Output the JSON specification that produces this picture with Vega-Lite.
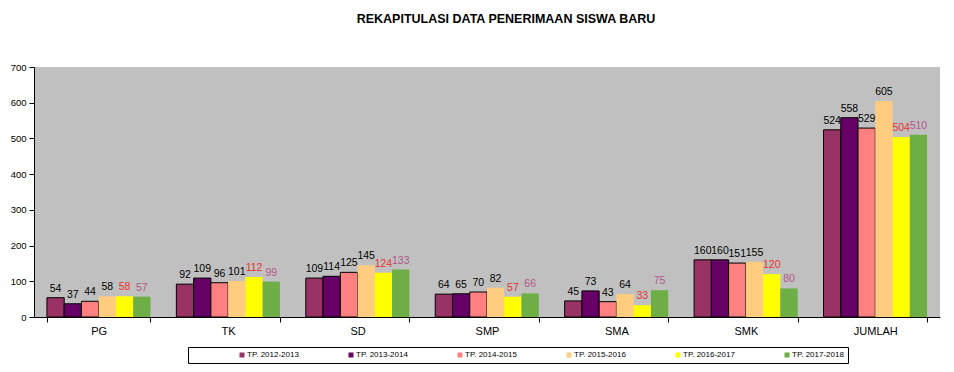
{
  "$schema": "https://vega.github.io/schema/vega-lite/v6.json",
  "width": 906,
  "height": 250,
  "autosize": {"type": "none"},
  "padding": {"left": 34, "top": 67, "right": 14, "bottom": 55},
  "background": "white",
  "title": {
    "text": "REKAPITULASI DATA PENERIMAAN  SISWA BARU",
    "font": "Liberation Sans",
    "fontSize": 12.5,
    "fontWeight": "bold",
    "color": "#000000",
    "anchor": "middle",
    "dx": 19,
    "offset": 37
  },
  "data": {
    "values": [
      {"jenjang": "PG", "tahun": "TP. 2012-2013", "jumlah": 54},
      {"jenjang": "PG", "tahun": "TP. 2013-2014", "jumlah": 37},
      {"jenjang": "PG", "tahun": "TP. 2014-2015", "jumlah": 44},
      {"jenjang": "PG", "tahun": "TP. 2015-2016", "jumlah": 58},
      {"jenjang": "PG", "tahun": "TP. 2016-2017", "jumlah": 58},
      {"jenjang": "PG", "tahun": "TP. 2017-2018", "jumlah": 57},
      {"jenjang": "TK", "tahun": "TP. 2012-2013", "jumlah": 92},
      {"jenjang": "TK", "tahun": "TP. 2013-2014", "jumlah": 109},
      {"jenjang": "TK", "tahun": "TP. 2014-2015", "jumlah": 96},
      {"jenjang": "TK", "tahun": "TP. 2015-2016", "jumlah": 101},
      {"jenjang": "TK", "tahun": "TP. 2016-2017", "jumlah": 112},
      {"jenjang": "TK", "tahun": "TP. 2017-2018", "jumlah": 99},
      {"jenjang": "SD", "tahun": "TP. 2012-2013", "jumlah": 109},
      {"jenjang": "SD", "tahun": "TP. 2013-2014", "jumlah": 114},
      {"jenjang": "SD", "tahun": "TP. 2014-2015", "jumlah": 125},
      {"jenjang": "SD", "tahun": "TP. 2015-2016", "jumlah": 145},
      {"jenjang": "SD", "tahun": "TP. 2016-2017", "jumlah": 124},
      {"jenjang": "SD", "tahun": "TP. 2017-2018", "jumlah": 133},
      {"jenjang": "SMP", "tahun": "TP. 2012-2013", "jumlah": 64},
      {"jenjang": "SMP", "tahun": "TP. 2013-2014", "jumlah": 65},
      {"jenjang": "SMP", "tahun": "TP. 2014-2015", "jumlah": 70},
      {"jenjang": "SMP", "tahun": "TP. 2015-2016", "jumlah": 82},
      {"jenjang": "SMP", "tahun": "TP. 2016-2017", "jumlah": 57},
      {"jenjang": "SMP", "tahun": "TP. 2017-2018", "jumlah": 66},
      {"jenjang": "SMA", "tahun": "TP. 2012-2013", "jumlah": 45},
      {"jenjang": "SMA", "tahun": "TP. 2013-2014", "jumlah": 73},
      {"jenjang": "SMA", "tahun": "TP. 2014-2015", "jumlah": 43},
      {"jenjang": "SMA", "tahun": "TP. 2015-2016", "jumlah": 64},
      {"jenjang": "SMA", "tahun": "TP. 2016-2017", "jumlah": 33},
      {"jenjang": "SMA", "tahun": "TP. 2017-2018", "jumlah": 75},
      {"jenjang": "SMK", "tahun": "TP. 2012-2013", "jumlah": 160},
      {"jenjang": "SMK", "tahun": "TP. 2013-2014", "jumlah": 160},
      {"jenjang": "SMK", "tahun": "TP. 2014-2015", "jumlah": 151},
      {"jenjang": "SMK", "tahun": "TP. 2015-2016", "jumlah": 155},
      {"jenjang": "SMK", "tahun": "TP. 2016-2017", "jumlah": 120},
      {"jenjang": "SMK", "tahun": "TP. 2017-2018", "jumlah": 80},
      {"jenjang": "JUMLAH", "tahun": "TP. 2012-2013", "jumlah": 524},
      {"jenjang": "JUMLAH", "tahun": "TP. 2013-2014", "jumlah": 558},
      {"jenjang": "JUMLAH", "tahun": "TP. 2014-2015", "jumlah": 529},
      {"jenjang": "JUMLAH", "tahun": "TP. 2015-2016", "jumlah": 605},
      {"jenjang": "JUMLAH", "tahun": "TP. 2016-2017", "jumlah": 504},
      {"jenjang": "JUMLAH", "tahun": "TP. 2017-2018", "jumlah": 510}
    ]
  },
  "encoding": {
    "x": {
      "field": "jenjang",
      "type": "nominal",
      "sort": ["PG", "TK", "SD", "SMP", "SMA", "SMK", "JUMLAH"],
      "scale": {"paddingInner": 0.2, "paddingOuter": 0.1},
      "axis": {
        "title": null,
        "labelAngle": 0,
        "labelFont": "Liberation Sans",
        "labelFontSize": 11,
        "labelColor": "#000000",
        "labelPadding": 3,
        "domainColor": "#000000",
        "tickColor": "#000000",
        "tickSize": 5,
        "tickBand": "extent",
        "grid": false
      }
    },
    "xOffset": {
      "field": "tahun",
      "type": "nominal",
      "sort": ["TP. 2012-2013", "TP. 2013-2014", "TP. 2014-2015", "TP. 2015-2016", "TP. 2016-2017", "TP. 2017-2018"],
      "scale": {"paddingInner": 0, "paddingOuter": 0}
    },
    "y": {
      "field": "jumlah",
      "type": "quantitative",
      "scale": {"domain": [0, 700], "nice": false},
      "axis": {
        "title": null,
        "values": [0, 100, 200, 300, 400, 500, 600, 700],
        "labelFont": "Liberation Sans",
        "labelFontSize": 9.5,
        "labelColor": "#000000",
        "labelPadding": 3,
        "domainColor": "#000000",
        "tickColor": "#000000",
        "tickSize": 5,
        "grid": false
      }
    }
  },
  "layer": [
    {
      "mark": {"type": "bar", "strokeWidth": 1},
      "encoding": {
        "color": {
          "field": "tahun",
          "type": "nominal",
          "scale": {
            "domain": ["TP. 2012-2013", "TP. 2013-2014", "TP. 2014-2015", "TP. 2015-2016", "TP. 2016-2017", "TP. 2017-2018"],
            "range": ["#993366", "#660066", "#FF8080", "#FFCC80", "#FFFF00", "#6DAE45"]
          },
          "legend": {
            "orient": "none",
            "legendX": 154,
            "legendY": 280,
            "direction": "horizontal",
            "title": "\u00a0",
            "titleOrient": "left",
            "titlePadding": 46,
            "titleFontSize": 8,
            "symbolType": "square",
            "symbolSize": 25,
            "symbolStrokeWidth": 0,
            "labelFont": "Liberation Sans",
            "labelFontSize": 8,
            "labelColor": "#000000",
            "labelOffset": 1,
            "columnPadding": 48,
            "padding": 4,
            "strokeColor": "#000000",
            "fillColor": "#FFFFFF",
            "labelExpr": "datum.label == 'TP. 2017-2018' ? datum.label + '\u00a0\u00a0\u00a0\u00a0\u00a0\u00a0\u00a0\u00a0\u00a0\u00a0\u00a0\u00a0\u00a0\u00a0\u00a0\u00a0\u00a0\u00a0\u00a0\u00a0\u00a0' : datum.label"
          }
        },
        "stroke": {
          "condition": {
            "test": "indexof(['TP. 2012-2013', 'TP. 2013-2014', 'TP. 2014-2015'], datum.tahun) >= 0",
            "value": "#000000"
          },
          "value": "transparent"
        }
      }
    },
    {
      "mark": {
        "type": "text",
        "baseline": "alphabetic",
        "dy": -6,
        "font": "Liberation Sans",
        "fontSize": 10.5
      },
      "encoding": {
        "text": {"field": "jumlah", "type": "quantitative"},
        "color": {
          "field": "tahun",
          "type": "nominal",
          "scale": {
            "domain": ["TP. 2012-2013", "TP. 2013-2014", "TP. 2014-2015", "TP. 2015-2016", "TP. 2016-2017", "TP. 2017-2018"],
            "range": ["#000000", "#000000", "#000000", "#000000", "#E8322F", "#B0588A"]
          },
          "legend": null
        }
      }
    }
  ],
  "resolve": {"scale": {"color": "independent"}},
  "config": {
    "view": {"fill": "#C0C0C0", "stroke": null}
  }
}
